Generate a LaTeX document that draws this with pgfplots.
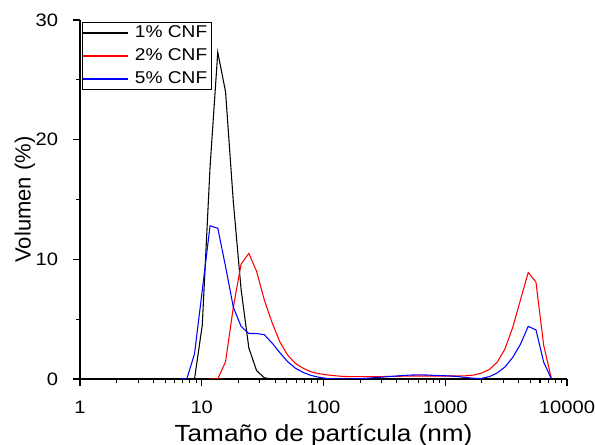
\documentclass[border=0pt]{standalone}
\usepackage{pgfplots}
\pgfplotsset{compat=1.18}
\usepackage{fontspec}
\setmainfont{Liberation Sans}[FakeStretch=1.12]
\newfontfamily\ylabfont{Liberation Sans}

\begin{document}
\begin{tikzpicture}
\useasboundingbox (-60pt,-49.5pt) rectangle (386.25pt,284.25pt);
\begin{axis}[
    at={(0pt,0pt)}, anchor=south west,
    scale only axis,
    width=365.25pt, height=269.25pt,
    xmode=log,
    xmin=1, xmax=10000,
    ymin=0, ymax=30,
    ytick={0,10,20,30},
    minor y tick num=1,
    log ticks with fixed point,
    /pgf/number format/1000 sep={},
    /pgf/number format/assume math mode=true,
    axis lines=left,
    axis line style={-, line width=1.1pt},
    tick align=outside,
    tick style={black, line width=0.8pt},
    major tick length=5pt,
    minor tick length=3pt,
    tick label style={font=\fontsize{13.5}{15}\selectfont},
    xticklabel style={anchor=base, inner sep=0pt, yshift=-20.5pt},
    yticklabel style={anchor=east, inner sep=0pt, xshift=-11.3pt},
    xlabel={Tamaño de partícula (nm)},
    ylabel={Volumen (\%)},
    every axis x label/.style={at={(axis description cs:0.5,0)}, anchor=base,
        yshift=-47pt, font=\fontsize{17.5}{19}\selectfont},
    every axis y label/.style={at={(axis description cs:0,0.5)}, xshift=-41.25pt,
        rotate=90, anchor=center, font=\ylabfont\fontsize{16.5}{19}\selectfont},
    legend style={at={(axis description cs:0,1)}, xshift=1.5pt, yshift=-1.7pt,
        anchor=north west, draw=black, line width=0.6pt,
        font=\fontsize{12.8}{14}\selectfont,
        inner xsep=0pt, inner ysep=1.9pt, row sep=5.25pt, column sep=4.5pt,
        nodes={inner sep=0pt, text height=9.5pt, text depth=2.5pt}},
    legend cell align=left,
    legend image code/.code={\draw[#1, line width=1.2pt] (0pt,0pt) -- (33.75pt,0pt);},
    every axis plot/.append style={line width=0.8pt},
]

\addplot[black] coordinates {
(7.531,0)(8.721,0)(10.1,4.5)(11.7,17.7)(13.54,27.3)(15.69,24.0)(18.17,14.8)
(21.04,7.5)(24.36,2.6)(28.21,0.7)(32.67,0.1)(37.84,0)(43.82,0)
};
\addlegendentry{1\% CNF\kern3pt}

\addplot[red] coordinates {
(11.7,0)(13.54,0)(15.69,1.45)(18.17,6.0)(21.04,9.6)(24.36,10.5)(28.21,9.0)
(32.67,6.6)(37.84,4.7)(43.82,3.1)(50.75,2.0)(58.77,1.3)(68.06,0.9)(78.82,0.6)
(91.28,0.45)(105.7,0.35)(122.4,0.28)(141.8,0.22)(164.2,0.2)(190.1,0.2)
(220.2,0.2)(255.0,0.2)(295.3,0.2)(342.0,0.22)(396.1,0.22)(458.7,0.24)
(531.2,0.25)(615.1,0.25)(712.4,0.25)(825.0,0.25)(955.4,0.25)(1106,0.25)
(1281,0.25)(1484,0.27)(1718,0.33)(1990,0.5)(2305,0.8)(2669,1.4)(3091,2.5)
(3580,4.3)(4145,6.6)(4801,8.9)(5560,8.1)(6439,2.8)(7456,0)
};
\addlegendentry{2\% CNF\kern3pt}

\addplot[blue] coordinates {
(6.503,0)(7.531,0)(8.721,2.1)(10.1,7.4)(11.7,12.8)(13.54,12.6)(15.69,9.4)
(18.17,6.0)(21.04,4.4)(24.36,3.8)(28.21,3.8)(32.67,3.7)(37.84,3.0)(43.82,2.2)
(50.75,1.45)(58.77,0.9)(68.06,0.55)(78.82,0.3)(91.28,0.15)(105.7,0.05)
(122.4,0)(141.8,0)(164.2,0)(190.1,0.02)(220.2,0.05)(255.0,0.1)(295.3,0.15)
(342.0,0.2)(396.1,0.25)(458.7,0.3)(531.2,0.33)(615.1,0.35)(712.4,0.33)
(825.0,0.3)(955.4,0.28)(1106,0.25)(1281,0.2)(1484,0.12)(1718,0.06)
(1990,0.05)(2305,0.2)(2669,0.5)(3091,1.0)(3580,1.8)(4145,2.9)(4801,4.4)
(5560,4.1)(6439,1.4)(7456,0)
};
\addlegendentry{5\% CNF\kern3pt}

\end{axis}
\end{tikzpicture}
\end{document}
